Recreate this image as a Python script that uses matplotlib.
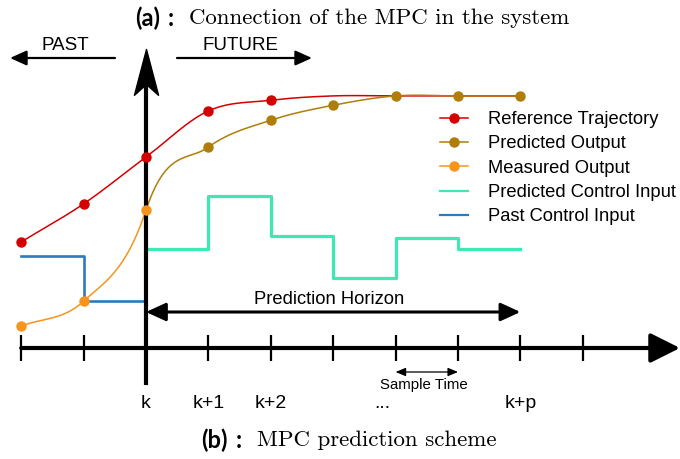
import numpy as np
import matplotlib
matplotlib.use('Agg')
import matplotlib.pyplot as plt
from matplotlib.lines import Line2D
from matplotlib.path import Path

# ---- signal levels (sample index relative to k, value above the time axis) ----
steps_all = [-2, -1, 0, 1, 2, 3, 4, 5, 6, 7]

ref_x = [-2, -1, 0, 1, 2, 3, 4, 5, 6]
ref_y = [1.70, 2.31, 3.06, 3.80, 3.97, 4.04, 4.04, 4.04, 4.04]

meas_x = [-2, -1, 0]
meas_y = [0.35, 0.75, 2.21]

pred_x = [0, 1, 2, 3, 4, 5, 6]
pred_y = [2.21, 3.22, 3.65, 3.89, 4.04, 4.04, 4.04]

past_u_x = [-2, -1, 0]
past_u_y = [1.47, 0.75, 1.59]

pred_u_x = [0, 1, 2, 3, 4, 5, 6]
pred_u_y = [1.59, 2.44, 1.79, 1.12, 1.76, 1.59, 1.59]

tick_pos = [0, 1, 2, 3.79, 6]
tick_labels = ['k', 'k+1', 'k+2', '...', 'k+p']

legend_labels = ['Reference Trajectory', 'Predicted Output', 'Measured Output',
                 'Predicted Control Input', 'Past Control Input']

# colours
C_REF = '#d40000'
C_PRED = '#b07d0a'
C_MEAS = '#f7941d'
C_PU = '#3de8b5'
C_U = '#2b7bbd'

SANS = 'Liberation Sans'
KNEE_SLOPE = 3.0   # steep rise of the output right at k


def hermite(xs, ys, slopes, n=40):
    """Cubic Hermite curve through the given points."""
    xs = np.asarray(xs, float)
    ys = np.asarray(ys, float)
    out_x, out_y = [], []
    for i in range(len(xs) - 1):
        h = xs[i + 1] - xs[i]
        t = np.linspace(0, 1, n)
        h00 = 2 * t**3 - 3 * t**2 + 1
        h10 = t**3 - 2 * t**2 + t
        h01 = -2 * t**3 + 3 * t**2
        h11 = t**3 - t**2
        out_x.append(xs[i] + h * t)
        out_y.append(h00 * ys[i] + h10 * h * slopes[i] + h01 * ys[i + 1] + h11 * h * slopes[i + 1])
    return np.concatenate(out_x), np.concatenate(out_y)


def caption(fig, x_serif, y, tag, text):
    """Bold '(x) :' tag followed by a serif caption starting at x_serif (pixels)."""
    W, H = 680, 459
    fig.text((x_serif - 15) / W, 1 - y / H, ':', ha='right', va='center', fontsize=17,
             family='Lato', weight='bold')
    fig.text((x_serif - 29) / W, 1 - y / H, tag, ha='right', va='center', fontsize=17,
             family='Lato', weight='bold')
    fig.text(x_serif / W, 1 - y / H, text, ha='left', va='center', fontsize=16.5,
             family='cmr10')


# figure: one unit = one sample = 62.4 px
fig = plt.figure(figsize=(6.8, 4.59), dpi=100)
ax = fig.add_axes([0, 0, 1, 1])
px = 62.4
ax.set_xlim(-146 / px, 534 / px)
ax.set_ylim(-111 / px, 348 / px)
ax.axis('off')

# reference trajectory
rs = np.gradient(np.array(ref_y), np.array(ref_x, float))
cx, cy = hermite(ref_x, ref_y, rs)
ax.plot(cx, cy, color=C_REF, lw=1.1, zorder=4)

# measured + predicted output as one smooth curve
out_x = meas_x + pred_x[1:]
out_y = meas_y + pred_y[1:]
os_ = np.gradient(np.array(out_y), np.array(out_x, float))
os_[out_x.index(0)] = KNEE_SLOPE
os_[-2:] = 0
cx, cy = hermite(out_x, out_y, os_)
ax.plot(cx[cx <= 0], cy[cx <= 0], color=C_MEAS, lw=1.1, zorder=4)
ax.plot(cx[cx >= 0], cy[cx >= 0], color=C_PRED, lw=1.1, zorder=4)

# control inputs
ax.plot(pred_u_x, pred_u_y, drawstyle='steps-post', color=C_PU, lw=2.3, zorder=3)
ax.plot(past_u_x, past_u_y, drawstyle='steps-post', color=C_U, lw=1.9, zorder=3)

# dots
ax.plot(ref_x[:5], ref_y[:5], 'o', color=C_REF, ms=6.5, zorder=6)
ax.plot(pred_x[1:], pred_y[1:], 'o', color=C_PRED, ms=6.5, zorder=7)
ax.plot(meas_x, meas_y, 'o', color=C_MEAS, ms=6.5, zorder=7)

# time axis
ax.annotate('', xy=(534 / px, 0), xytext=(-2, 0),
            arrowprops=dict(arrowstyle='-|>,head_length=18,head_width=9', lw=3,
                            color='black', shrinkA=0, shrinkB=0, mutation_scale=1))
ax.vlines(steps_all, -0.21, 0.21, color='black', lw=1.6)

# vertical axis at k with a stealth head
top = 299 / px
ax.plot([0, 0], [-35 / px, top - 0.5], color='black', lw=3, zorder=5)
stealth = Path([(0, 0), (0.5, -1.9), (0, -1.45), (-0.5, -1.9), (0, 0)],
               [Path.MOVETO, Path.LINETO, Path.LINETO, Path.LINETO, Path.CLOSEPOLY])
ax.plot(0, top, marker=stealth, ms=66, color='black', mec='black', zorder=8)

# past / future arrows
ax.annotate('', xy=(-136 / px, 290 / px), xytext=(-31 / px, 290 / px),
            arrowprops=dict(arrowstyle='-|>,head_length=10,head_width=4.5', lw=1.6,
                            color='black', shrinkA=0, shrinkB=0, mutation_scale=1))
ax.annotate('', xy=(166 / px, 290 / px), xytext=(31 / px, 290 / px),
            arrowprops=dict(arrowstyle='-|>,head_length=10,head_width=4.5', lw=1.6,
                            color='black', shrinkA=0, shrinkB=0, mutation_scale=1))
ax.text(-81 / px, 303 / px, 'PAST', ha='center', va='center', fontsize=13.5, family=SANS)
ax.text(94 / px, 303 / px, 'FUTURE', ha='center', va='center', fontsize=13.5, family=SANS)

# prediction horizon
ph_y = 36 / px
ax.annotate('', xy=(6, ph_y), xytext=(0, ph_y),
            arrowprops=dict(arrowstyle='<|-|>,head_length=12,head_width=5.5', lw=2.2,
                            color='black', shrinkA=0, shrinkB=0, mutation_scale=1))
ax.text(2.93, 48 / px, 'Prediction Horizon', ha='center', va='center', fontsize=13.2,
        family=SANS)

# sample time
ax.annotate('', xy=(4, -24 / px), xytext=(5, -24 / px),
            arrowprops=dict(arrowstyle='<|-|>,head_length=6,head_width=2.5', lw=0.9,
                            color='black', shrinkA=0, shrinkB=0, mutation_scale=1))
ax.text(4.45, -37 / px, 'Sample Time', ha='center', va='center', fontsize=10.8, family=SANS)

# tick labels
for p, lab in zip(tick_pos, tick_labels):
    ax.text(p, -55 / px, lab, ha='center', va='center', fontsize=14, family=SANS)

# legend
handles = [
    Line2D([], [], color=C_REF, lw=1.1, marker='o', ms=6.5),
    Line2D([], [], color=C_PRED, lw=1.1, marker='o', ms=6.5),
    Line2D([], [], color=C_MEAS, lw=1.1, marker='o', ms=6.5),
    Line2D([], [], color=C_PU, lw=1.6),
    Line2D([], [], color=C_U, lw=1.6),
]
ax.legend(handles, legend_labels, loc='upper left', bbox_to_anchor=(440 / 680, 1 - 111 / 459),
          frameon=False, prop={'family': SANS, 'size': 13.2}, handlelength=1.5,
          handletextpad=1.12, labelspacing=0.4, borderpad=0, borderaxespad=0)

# captions
caption(fig, 189, 18, '(a)', 'Connection of the MPC in the system')
caption(fig, 257, 440, '(b)', 'MPC prediction scheme')

fig.savefig('out.png', dpi=100)
